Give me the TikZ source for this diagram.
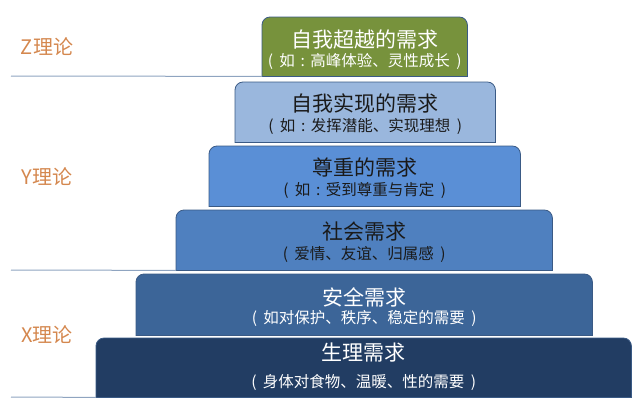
\documentclass[tikz,border=0pt]{standalone}
\usepackage{fontspec}
\setmainfont{Noto Sans CJK SC}
\usetikzlibrary{positioning}
\definecolor{transc}{HTML}{77923C}
\definecolor{selfc}{HTML}{9AB7DD}
\definecolor{esteemc}{HTML}{5A8FD6}
\definecolor{socialc}{HTML}{4F80BF}
\definecolor{safetyc}{HTML}{3C6598}
\definecolor{physioc}{HTML}{223D63}
\definecolor{edgec}{HTML}{3A5A85}
\definecolor{theoryc}{HTML}{D4874E}
\definecolor{sepc}{HTML}{8FA4C0}
\definecolor{darktext}{HTML}{1A1A1A}
\newcommand\myopen{\makebox[0.75em][l]{(}}
\newcommand\myclose{\makebox[0.75em][r]{)}}
\newcommand\mycolon{\makebox[1em]{:}}
\begin{document}
\begin{tikzpicture}[x=1pt,y=-1pt,
	layer/.style={draw=none,inner sep=0pt,anchor=north west},
	title/.style={font=\fontsize{21}{21}\selectfont,inner sep=0pt},
	sub/.style={font=\fontsize{15.5}{15.5}\selectfont,inner sep=0pt},
	theory/.style={text=theoryc,font=\fontsize{20}{20}\selectfont,inner sep=0pt},
	sep/.style={draw=sepc,line width=1pt}]
\useasboundingbox (0,0) rectangle (640,405);
% the six layers, top to bottom
\foreach \n/\l/\t/\r/\b/\c/\tc/\o/\ti/\su in {
	trans/262/17/467/76/transc/white/23/自我超越的需求/\myopen 如\mycolon 高峰体验、灵性成长\myclose,
	self/235/82/495/142/selfc/darktext/21/自我实现的需求/\myopen 如\mycolon 发挥潜能、实现理想\myclose,
	esteem/209/146/520/206/esteemc/darktext/21/尊重的需求/\myopen 如\mycolon 受到尊重与肯定\myclose,
	social/176/210/552/270/socialc/darktext/22/社会需求/\myopen 爱情、友谊、归属感\myclose,
	safety/136/274/592/335/safetyc/white/23/安全需求/\myopen 如对保护、秩序、稳定的需要\myclose,
	physio/96/338/631/397/physioc/white/15/生理需求/\myopen 身体对食物、温暖、性的需要\myclose}
{
	\node[layer,minimum width={\r-\l},minimum height={\b-\t}] (\n) at (\l,\t) {};
	\filldraw[fill=\c,draw=edgec,line width=0.8pt] (\n.south west) [rounded corners=8pt] -- (\n.north west) -- (\n.north east) [sharp corners] -- (\n.south east) -- cycle;
	\node[title,text=\tc] (\n-title) at ([yshift=-\o pt]\n.north) {\ti};
	\node[sub,text=\tc] (\n-sub) at ([yshift=-44pt]\n.north) {\su};
}
% theory labels and separators
\node[theory] (ztheory) at (47,47) {Z理论};
\node[theory] (ytheory) at (47,177) {Y理论};
\node[theory] (xtheory) at (47,335) {X理论};
\coordinate (zline) at (11,76);
\coordinate (yline) at (11,270);
\coordinate (xline) at (11,397);
\draw[sep] (zline) -- (trans.south west);
\draw[sep] (yline) -- (social.south west);
\draw[sep] (xline) -- (physio.south west);
\end{tikzpicture}
\end{document}
